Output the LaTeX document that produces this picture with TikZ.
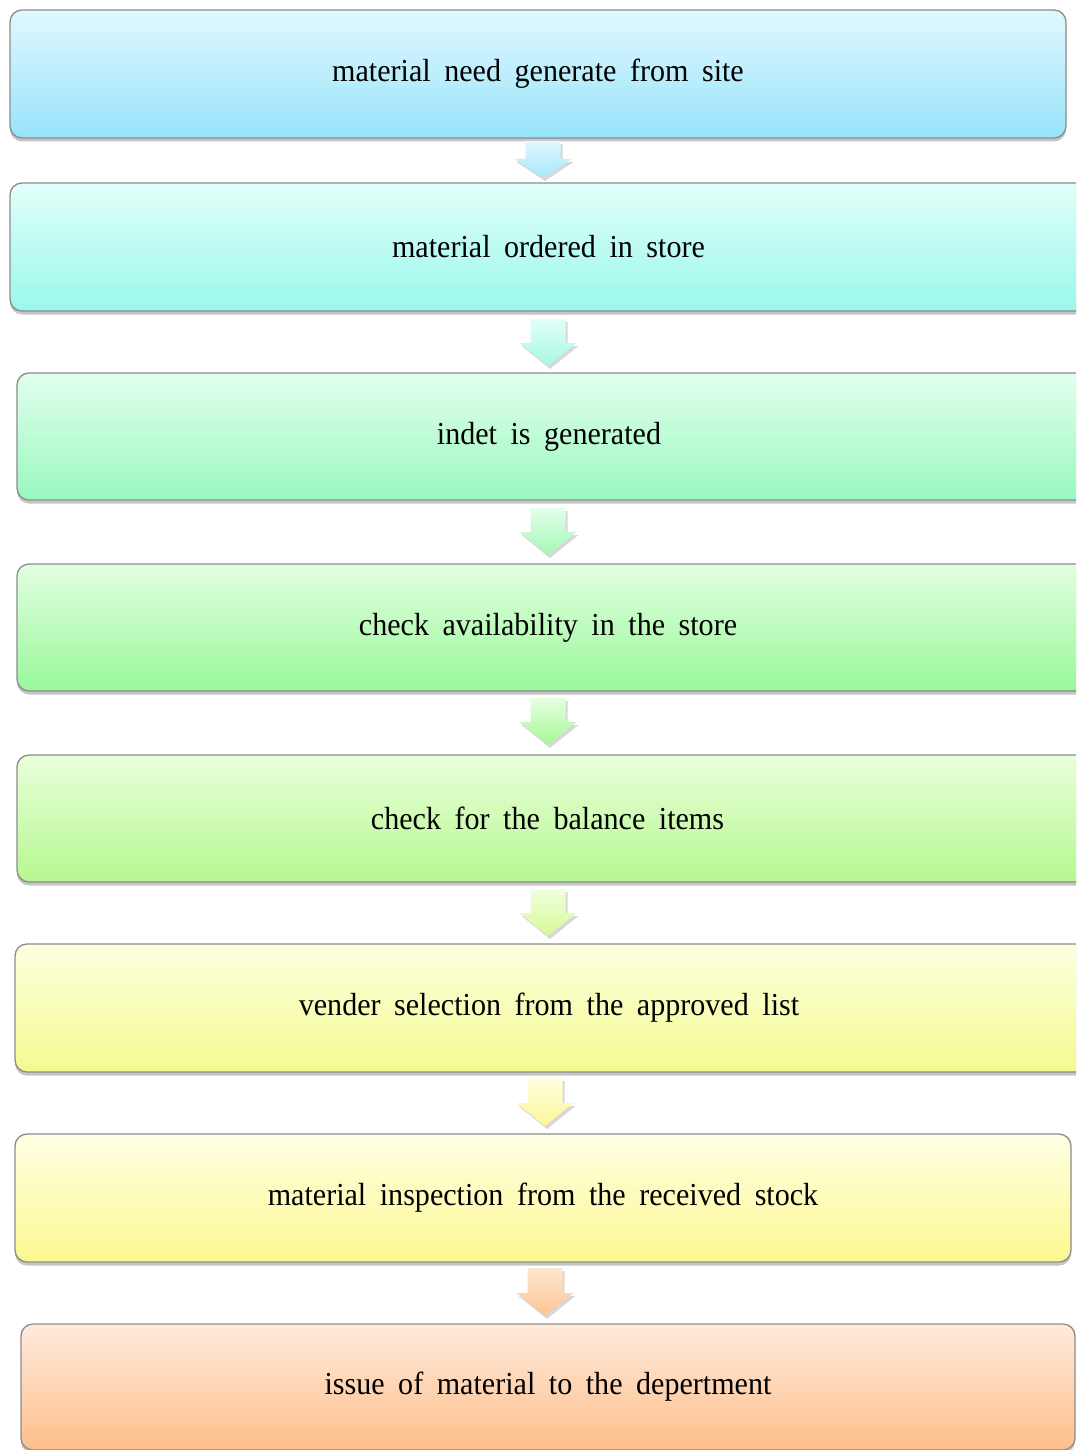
\documentclass[tikz,border=0pt]{standalone}
\usepackage{fontspec}
\setmainfont{Liberation Serif}[WordSpace=1.8, FakeStretch=0.94]
\usetikzlibrary{shadows,calc}
\definecolor{bordergray}{HTML}{8C8C8C}
\tikzset{
  box/.style={rounded corners=12pt, draw=bordergray, line width=1.3pt,
    drop shadow={opacity=0.45, shadow xshift=0pt, shadow yshift=-3.5pt},
    font=\fontsize{32}{36}\selectfont, text=black, inner sep=0pt},
  arrowstyle/.style={drop shadow={opacity=0.3, shadow xshift=2pt, shadow yshift=-3pt}}
}
\newcommand\blockarr[6]{% x, ytop, ybot, headlen, topcolor, bottomcolor
  \path[arrowstyle, top color=#5, bottom color=#6]
    (#1-17.5,#2) -- (#1+17.5,#2) -- (#1+17.5,#3-#4) -- (#1+28.5,#3-#4)
    -- (#1,#3) -- (#1-28.5,#3-#4) -- (#1-17.5,#3-#4) -- cycle;}
\begin{document}
\begin{tikzpicture}[x=1pt,y=-1pt]
\clip (0,0) rectangle (1076,1450);
\fill[white] (0,0) rectangle (1076,1450);

\node[box, top color={rgb,255:red,226;green,248;blue,254}, bottom color={rgb,255:red,151;green,228;blue,251},
  minimum width=1056pt, minimum height=128pt] (b1) at (538,74) {material need generate from site};
\node[box, top color={rgb,255:red,226;green,255;blue,250}, bottom color={rgb,255:red,153;green,248;blue,234},
  minimum width=1101pt, minimum height=128pt] (b2) at (560.5,247) {\kern-24pt material ordered in store};
\node[box, top color={rgb,255:red,226;green,255;blue,238}, bottom color={rgb,255:red,153;green,248;blue,190},
  minimum width=1088pt, minimum height=127pt] (b3) at (561,436.5) {\kern-24pt indet is generated};
\node[box, top color={rgb,255:red,226;green,255;blue,224}, bottom color={rgb,255:red,153;green,248;blue,155},
  minimum width=1086pt, minimum height=127pt] (b4) at (560,627.5) {\kern-24pt check availability in the store};
\node[box, top color={rgb,255:red,234;green,255;blue,218}, bottom color={rgb,255:red,181;green,248;blue,144},
  minimum width=1085pt, minimum height=127pt] (b5) at (559.5,818.5) {\kern-24pt check for the balance items};
\node[box, top color={rgb,255:red,253;green,255;blue,224}, bottom color={rgb,255:red,243;green,250;blue,144},
  minimum width=1092pt, minimum height=128pt] (b6) at (561,1008) {\kern-24pt vender selection from the approved list};
\node[box, top color={rgb,255:red,255;green,255;blue,228}, bottom color={rgb,255:red,251;green,248;blue,144},
  minimum width=1056pt, minimum height=128pt] (b7) at (543,1198) {material inspection from the received stock};
\node[box, top color={rgb,255:red,255;green,234;blue,220}, bottom color={rgb,255:red,253;green,191;blue,138},
  minimum width=1054pt, minimum height=126pt] (b8) at (548,1387) {issue of material to the depertment};

\blockarr{543}{141}{178}{19}{{rgb,255:red,226;green,247;blue,254}}{{rgb,255:red,165;green,232;blue,251}}
\blockarr{548}{319}{366}{23}{{rgb,255:red,226;green,255;blue,250}}{{rgb,255:red,165;green,248;blue,225}}
\blockarr{548}{508}{555}{23}{{rgb,255:red,226;green,255;blue,236}}{{rgb,255:red,165;green,248;blue,180}}
\blockarr{548}{698}{745}{23}{{rgb,255:red,230;green,255;blue,224}}{{rgb,255:red,165;green,248;blue,150}}
\blockarr{548}{889}{936}{23}{{rgb,255:red,240;green,255;blue,220}}{{rgb,255:red,215;green,250;blue,150}}
\blockarr{545}{1078}{1126}{23}{{rgb,255:red,255;green,255;blue,226}}{{rgb,255:red,251;green,246;blue,150}}
\blockarr{545}{1268}{1316}{23}{{rgb,255:red,255;green,230;blue,210}}{{rgb,255:red,253;green,196;blue,145}}
\end{tikzpicture}
\end{document}
